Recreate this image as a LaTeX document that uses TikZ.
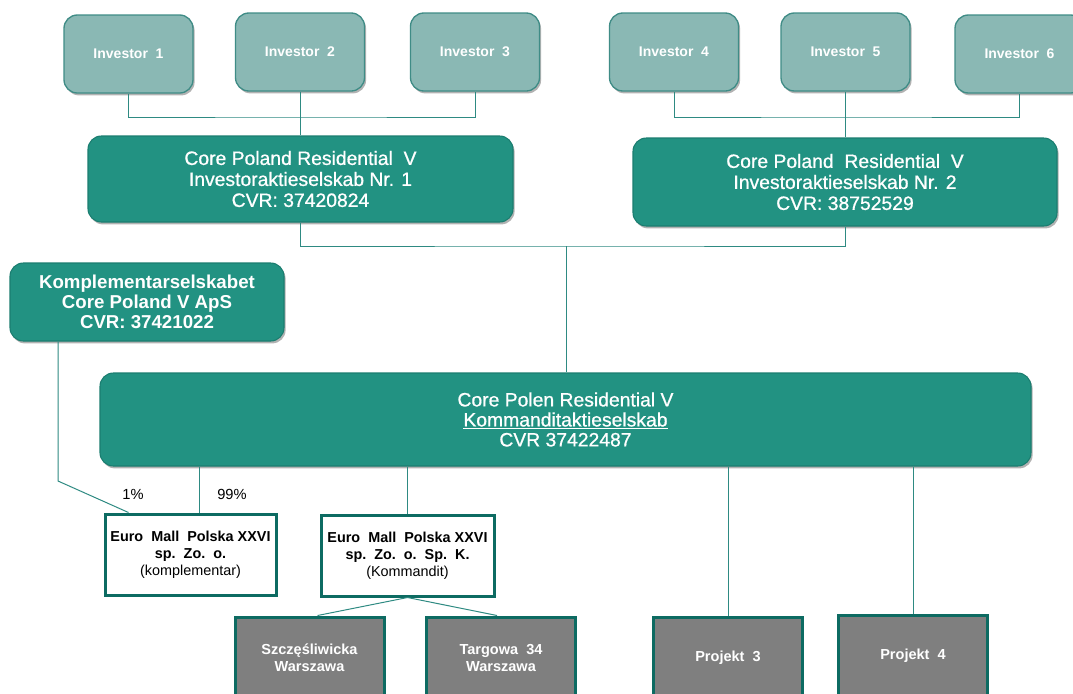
\documentclass[tikz,border=0pt]{standalone}
\usepackage{fontspec}
\setmainfont{Liberation Sans}
\newfontfamily\medfont[FakeBold=0.8]{Liberation Sans}
\usetikzlibrary{shadows,calc}
\definecolor{invfill}{HTML}{8AB8B4}
\definecolor{invdraw}{HTML}{3F8C86}
\definecolor{corefill}{HTML}{229282}
\definecolor{coredraw}{HTML}{1B7D70}
\definecolor{conn}{HTML}{2E8A82}
\definecolor{thick}{HTML}{0D6B62}
\definecolor{greyfill}{HTML}{7F7F7F}
\begin{document}
\begin{tikzpicture}[x=0.75pt,y=-0.75pt,
 shad/.style={drop shadow={shadow xshift=1.2pt,shadow yshift=-1.8pt,opacity=0.3,fill=black}},
 inv/.style={shad,draw=invdraw,line width=1pt,fill=invfill,rounded corners=10pt,minimum width=96.75pt,minimum height=58.5pt,inner sep=0pt,text=white,font=\fontsize{10.5}{12}\selectfont\bfseries},
 core/.style={shad,draw=coredraw,line width=0.8pt,fill=corefill,rounded corners=10pt,inner sep=0pt,align=center,text=white,font=\medfont\fontsize{14.5}{15.75}\selectfont},
 kcore/.style={core,font=\fontsize{14}{15.2}\selectfont\bfseries},
 em/.style={draw=thick,line width=2.25pt,fill=white,inner sep=0pt,align=center,minimum height=60.75pt,font=\fontsize{10.8}{12.75}\selectfont},
 prj/.style={draw=thick,line width=2.25pt,fill=greyfill,inner sep=0pt,align=center,minimum width=111.75pt,minimum height=60.75pt,text=white,font=\fontsize{10.9}{12.75}\selectfont\bfseries},
 link/.style={draw=conn,line width=0.75pt},
 pct/.style={font=\fontsize{11}{13}\selectfont,inner sep=0pt}]
\clip (0,0) rectangle (1073,693);
\fill[white] (0,0) rectangle (1073,693);

% investors
\node[inv] (inv1) at (128.5,54) {Investor\ \ 1};
\node[inv] (inv2) at (300,52) {Investor\ \ 2};
\node[inv] (inv3) at (475,52) {Investor\ \ 3};
\node[inv] (inv4) at (674,52) {Investor\ \ 4};
\node[inv] (inv5) at (845.5,52) {Investor\ \ 5};
\node[inv] (inv6) at (1019.5,54) {Investor\ \ 6};

% holding companies
\node[core,minimum width=318.75pt,minimum height=64.5pt] (core1) at (300.5,179) {Core Poland Residential\ \ V\\Investoraktieselskab Nr. 1\\CVR: 37420824};
\node[core,minimum width=318pt,minimum height=66pt] (core2) at (845,182) {Core Poland\ \ Residential\ \ V\\Investoraktieselskab\ Nr. 2\\CVR: 38752529};
\node[kcore,minimum width=205.5pt,minimum height=58.5pt] (kompl) at (147,302) {Komplementarselskabet\\Core Poland V ApS\\CVR: 37421022};
\node[core,minimum width=698.25pt,minimum height=69.75pt,font=\medfont\fontsize{14.5}{15}\selectfont] (main) at (565.5,419.5) {Core Polen Residential V\\\underline{Kommanditaktieselskab}\\CVR 37422487};

% Polish companies
\node[em,minimum width=128.25pt] (em1) at (190.5,554.5) {\textbf{Euro\ \ Mall\ \ Polska\ XXVI}\\\textbf{sp.\ \ Zo.\ \ o.}\\(komplementar)};
\node[em,minimum width=129.75pt] (em2) at (407.5,555.5) {\textbf{Euro\ \ Mall\ \ Polska\ XXVI}\\\textbf{sp.\ \ Zo.\ \ o.\ \ Sp.\ \ K.}\\(Kommandit)};

% projects
\node[prj] (szcz) at (309.5,657.5) {Szczęśliwicka\\Warszawa};
\node[prj] (targ) at (501,657.5) {Targowa\ \ 34\\Warszawa};
\node[prj] (p3) at (728,658) {Projekt\ \ 3};
\node[prj] (p4) at (913,656) {Projekt\ \ 4};

% percent labels
\node[pct] (pc1) at (133,494) {1\%};
\node[pct] (pc99) at (232,494) {99\%};

% connectors
\coordinate (busL) at (300,117);
\draw[link] (inv1.south) |- (busL) -| (inv3.south);
\draw[link] (inv2.south) -- (inv2.south |- core1.north);
\coordinate (busR) at (846,117);
\draw[link] (inv4.south) |- (busR) -| (inv6.south);
\draw[link] (inv5.south) -- (inv5.south |- core2.north);
\coordinate (busC) at (566,246);
\draw[link] (core1.south) |- (busC) -| (core2.south);
\draw[link] (busC) -- (busC |- main.north);
\coordinate (kb) at (58,481);
\draw[link] (kompl.south -| kb) -- (kb) -- ($(em1.north west)+(25,0)$);
\coordinate (m1) at (199,0);
\draw[link] (main.south -| m1) -- (em1.north -| m1);
\draw[link] (main.south -| em2.north) -- (em2.north);
\draw[link] ($(szcz.north)+(8,0)$) -- (em2.south) -- ($(targ.north)+(-4,0)$);
\draw[link] (main.south -| p3.north) -- (p3.north);
\draw[link] (main.south -| p4.north) -- (p4.north);
\end{tikzpicture}
\end{document}
